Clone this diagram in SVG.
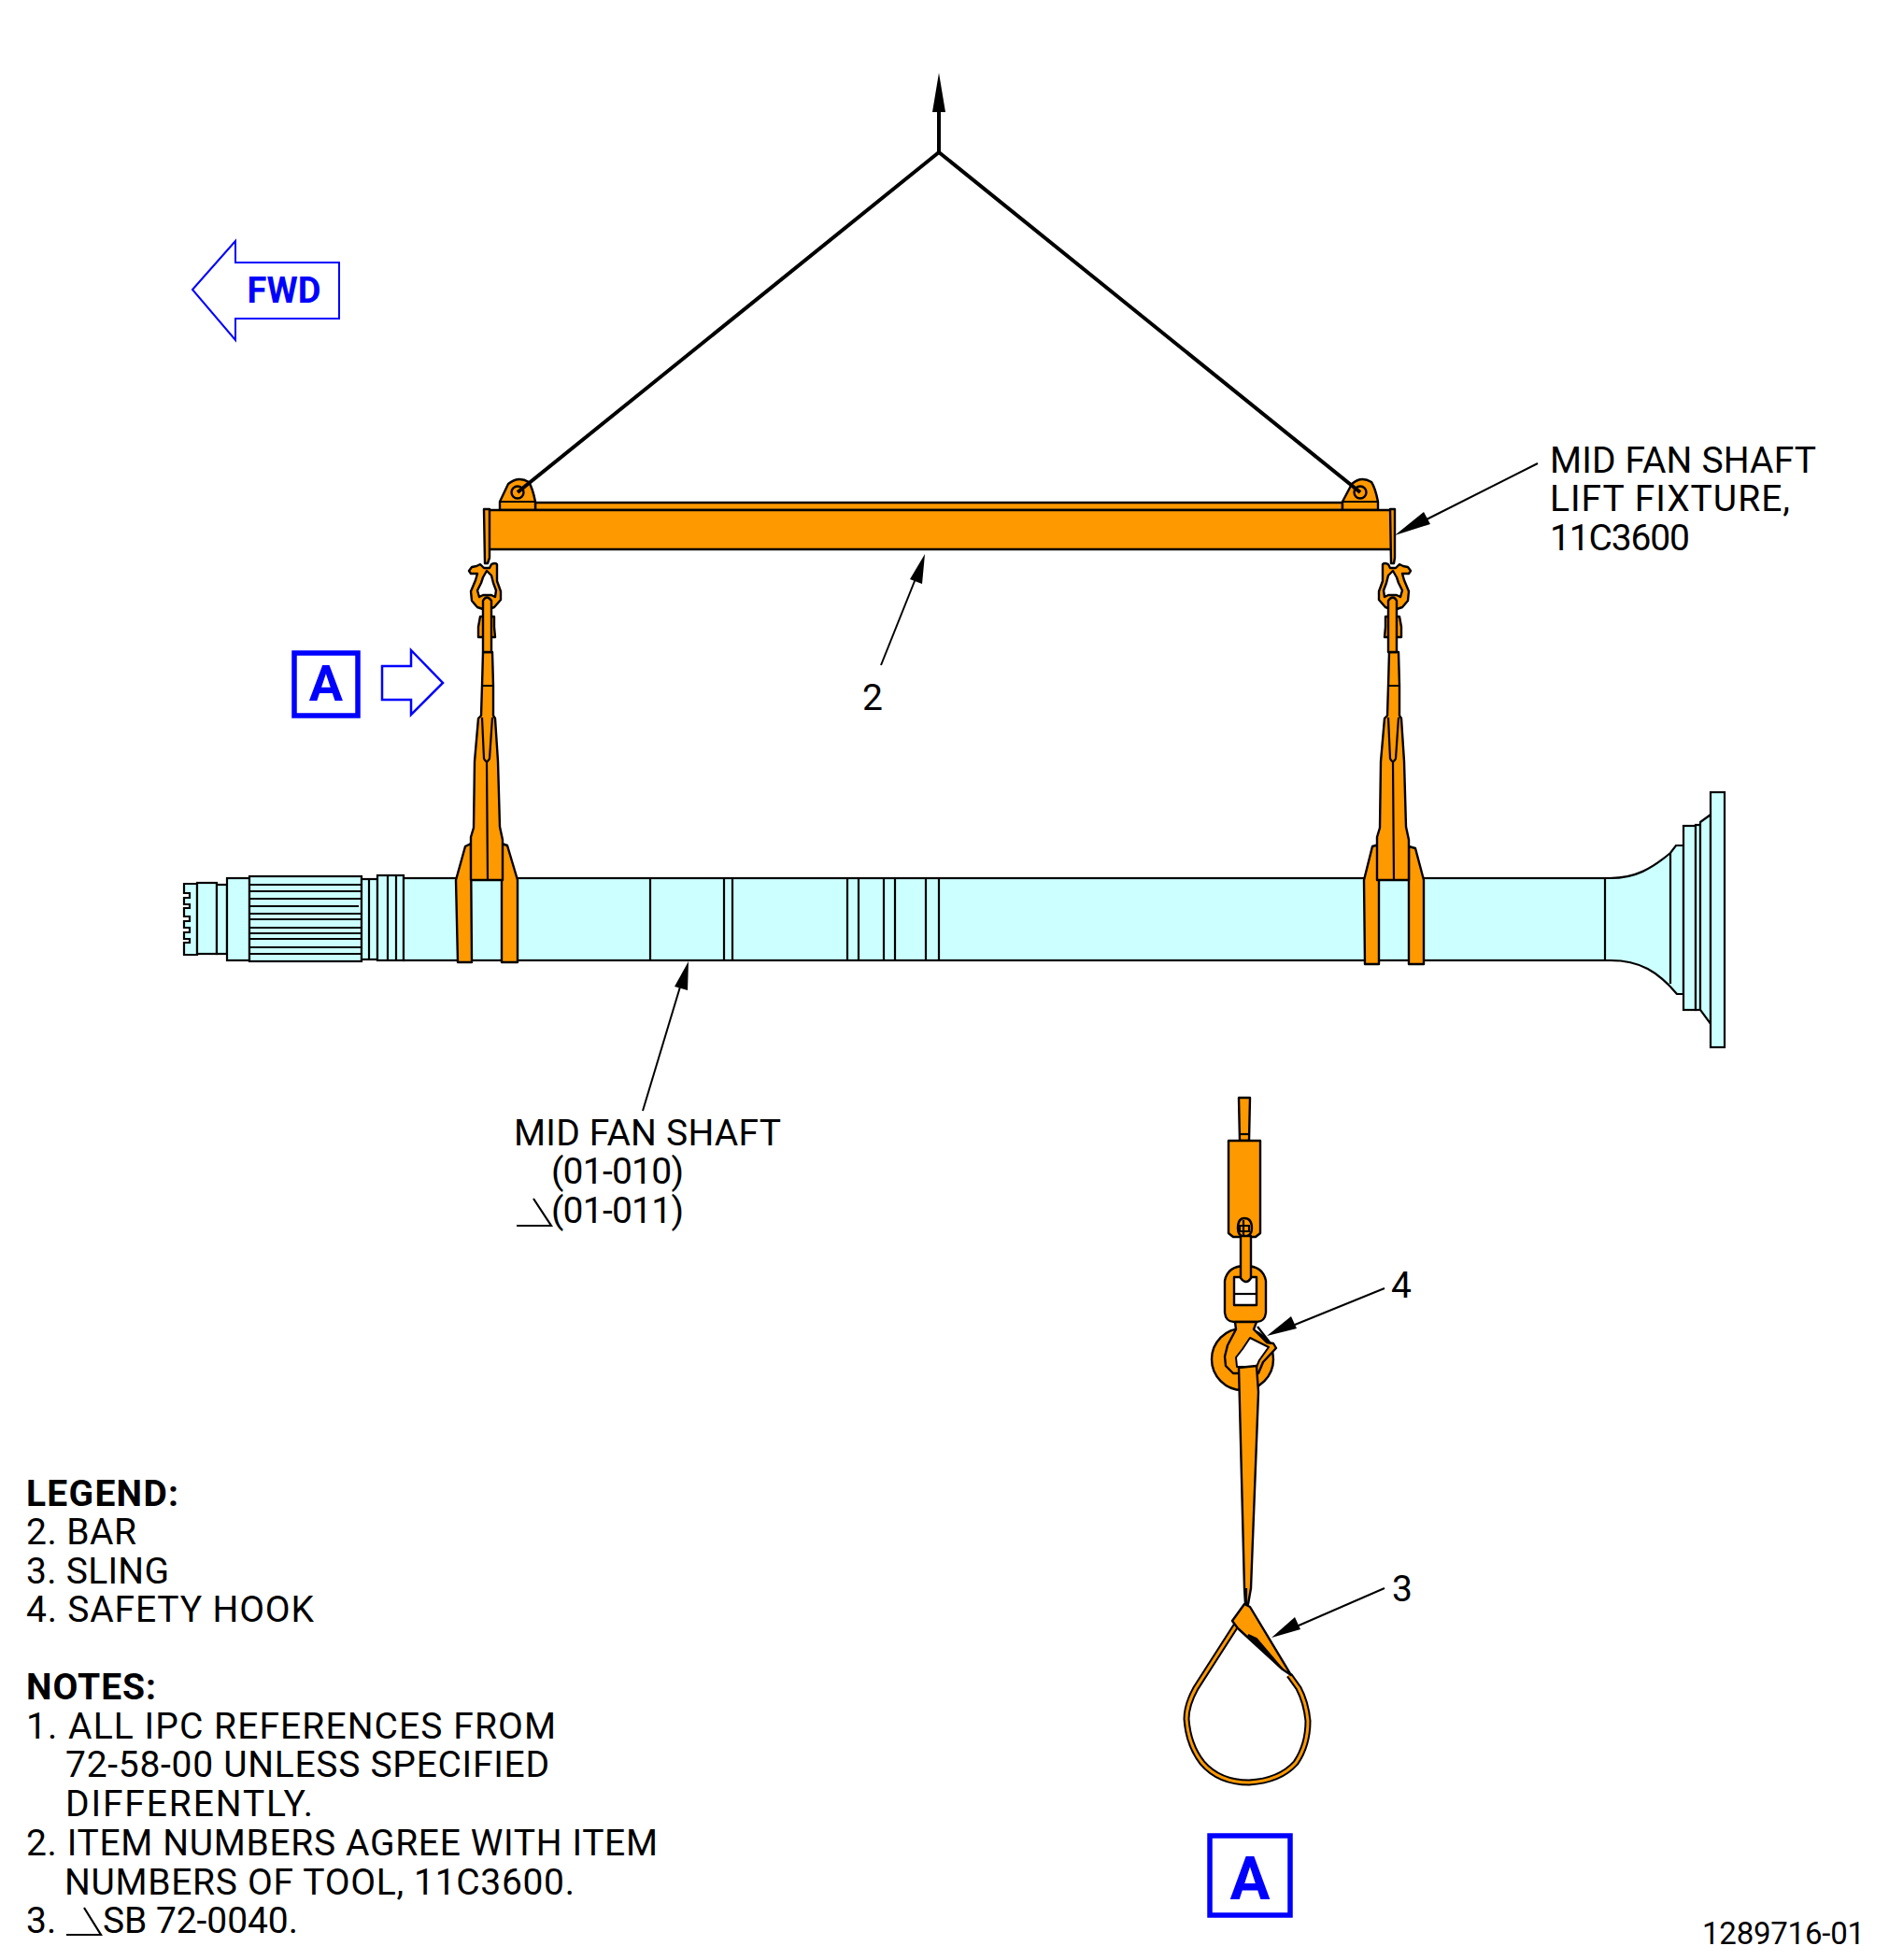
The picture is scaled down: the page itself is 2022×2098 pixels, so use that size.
<svg xmlns="http://www.w3.org/2000/svg" xmlns:xlink="http://www.w3.org/1999/xlink" width="2022" height="2098" viewBox="0 0 2022 2098">
<style>
text{font-family:Roboto,"Liberation Sans",sans-serif;font-size:39px;fill:#000;font-weight:400}
.b{font-weight:700}
.blue{fill:#00f;font-weight:700}
.o{fill:#f90;stroke:#000;stroke-width:2.400;stroke-linejoin:round}
.c{fill:#cff;stroke:#000;stroke-width:2.200;stroke-linejoin:miter}
.l{fill:none;stroke:#000;stroke-width:2.200}
.w{fill:none;stroke:#000;stroke-width:4}
.a{fill:none;stroke:#00f;stroke-width:2}
.box{fill:none;stroke:#00f;stroke-width:5.500}
.leader{fill:none;stroke:#000;stroke-width:2}
.h{fill:#000;stroke:none}
</style>
<defs>
<g id="shackle">
<path class="o" fill-rule="evenodd" d="M526 604Q530 602 532 604L532 622 536 633 536 642 529 650 520 653 511 650 505 643 504 633 509 621 511 614H504L502 611 505 607 510 606 514 604 518 608H524ZM521 611 517 618 515 624 511 632 513 639 517 637H526L530 639 531 632 528 624 526 616Z"/>
<path class="o" d="M514 660H529V671L530 682H512V671Z"/>
<path class="o" d="M517 698V643Q521 636 526 643V698Z"/>
</g>
<g id="strap">
<path class="o" d="M504 942V896L507 886 508 815 512 769 515 766 516 734 517 698H527L528 734 528 766 530 769 533 815 535 885 538 899V942Z"/>
<path class="l" d="M516 734H528M516 768 518 812Q521 818 524 812L527 768M521 815 522 943"/>
</g>
</defs>
<g id="shaft">
<path class="c" d="M197 946H211V1022H197V1009H203V1005H197V998H203V993H197V986H203V981H197V972H203V968H197V961H203V956H197Z"/>
<rect class="c" x="211" y="945" width="21" height="76"/>
<rect class="c" x="232" y="947" width="11" height="74"/>
<rect class="c" x="243" y="940" width="24" height="88"/>
<rect class="c" x="267" y="938" width="120" height="91"/>
<path class="l" d="M267 947H387M267 954H387M267 962H387M267 970H384M267 978H387M267 984H387M267 993H387M267 999H387M267 1005H387M267 1014H387M267 1021H387"/>
<rect class="c" x="387" y="941" width="17" height="86"/>
<path class="l" d="M395 941V1027"/>
<rect class="c" x="404" y="937" width="28" height="91"/>
<path class="l" d="M415 937V1028M424 937V1028"/>
<rect class="c" x="432" y="940" width="1300" height="88"/>
<path class="l" d="M696 940V1028M775 940V1028M784 940V1028M907 940V1028M919 940V1028M946 940V1028M958 940V1028M991 940V1028M1005 940V1028"/>
<path class="c" d="M1718 940H1724C1750 940 1768 930 1788 913L1794 905H1802V1064H1795C1775 1040 1755 1028 1724 1028H1718Z"/>
<path class="l" d="M1788 913V1053"/>
<rect class="c" x="1802" y="884" width="13" height="197"/>
<rect class="c" x="1815" y="883" width="5" height="198"/>
<path class="c" d="M1820 880 1831 872V1096L1820 1081Z"/>
<rect class="c" x="1831" y="848" width="15" height="273"/>
</g>
<g id="bar">
<rect class="o" x="573" y="538" width="864" height="8"/>
<path class="o" d="M535 546V537L544 518Q555 509 566 516 570 522 573 537V546Z"/>
<path class="l" d="M535 537H573"/>
<path class="o" d="M1437 546V537L1447 518Q1457 509 1468 516 1472 522 1475 537V546Z"/>
<path class="l" d="M1437 537H1475"/>
<rect class="o" x="522" y="546" width="968" height="42"/>
<circle class="o" cx="554" cy="527" r="6.500"/>
<circle class="o" cx="1456" cy="527" r="6.500"/>
<path class="o" d="M518 545H524V597L522 603H519Z"/>
<path class="o" d="M1488 545H1493V597L1492 603H1489Z"/>
</g>
<g id="sling-left">
<path class="o" d="M488 942 498 906 504 903 505 1030H490Z"/>
<path class="o" d="M537 903 543 905 554 942V1030H537Z"/>
<use xlink:href="#strap" href="#strap"/>
<use xlink:href="#shackle" href="#shackle"/>
</g>
<g id="sling-right">
<path class="o" d="M1460 942 1469 906 1476 904V1032H1461Z"/>
<path class="o" d="M1508 906 1515 908 1524 942V1032H1508Z"/>
<use xlink:href="#strap" href="#strap" transform="translate(970 0)"/>
<use xlink:href="#shackle" href="#shackle" transform="translate(2012 0) scale(-1 1)"/>
</g>
<g id="detail-a">
<path class="o" d="M1326 1175H1338L1337 1221H1327Z"/>
<path class="l" d="M1327 1214H1337"/>
<path class="o" d="M1315 1221H1349V1320L1344 1324H1320L1315 1320Z"/>
<path class="o" d="M1325 1315Q1325 1304 1332 1304 1340 1304 1340 1315 1340 1323 1332 1324 1325 1323 1325 1315Z"/>
<path class="l" d="M1331 1306V1323M1327 1312V1318H1337V1312Z"/>
<path class="o" fill-rule="evenodd" d="M1311 1371Q1314 1355 1333 1355 1352 1355 1355 1371V1405Q1354 1415 1345 1415H1321Q1312 1415 1311 1405ZM1321 1367V1397H1345V1367Z"/>
<path class="l" d="M1321 1385H1345"/>
<path class="o" d="M1328 1323H1339V1368Q1334 1376 1328 1368Z"/>
<circle class="o" cx="1330" cy="1455" r="33"/>
<path class="o" d="M1322 1415H1345L1342 1423 1356 1437 1363 1438 1366 1443 1352 1458 1347 1470H1320L1312 1462 1311 1452 1314 1440 1323 1423Z"/>
<path fill="#fff" stroke="#000" stroke-width="2" stroke-linejoin="round" d="M1338 1432 1350 1438 1358 1442 1348 1456 1345 1463H1324L1323 1453 1330 1444Z"/>
<path class="l" d="M1346 1420 1360 1438"/>
<path class="o" d="M1326 1464 1345 1462 1347 1490 1339 1700 1336 1717H1333L1332 1700Z"/>
<path class="l" d="M1334 1700V1716"/>
<path d="M1323 1740 1280 1807Q1270 1825 1270 1840 1272 1868 1287 1887 1305 1908 1337 1908 1370 1906 1387 1887 1400 1868 1400 1842 1398 1822 1390 1807L1380 1793" fill="none" stroke="#000" stroke-width="7"/>
<path d="M1323 1740 1280 1807Q1270 1825 1270 1840 1272 1868 1287 1887 1305 1908 1337 1908 1370 1906 1387 1887 1400 1868 1400 1842 1398 1822 1390 1807L1380 1793" fill="none" stroke="#f90" stroke-width="3"/>
<path class="o" d="M1332 1717 1338 1720 1382 1793 1373 1787 1325 1743 1319 1735Z"/>
<path d="M1336 1750 1373 1787 1345 1754Z" fill="#000" stroke="#000" stroke-width="2"/>
</g>
<g id="connectors">
<path class="w" d="M1005 163V100"/>
<path class="w" d="M554 527 1005 163 1456 527"/>
<path class="h" d="M1005 78 998 120H1012Z"/>
<path class="leader" d="M1646 496 1525 557"/>
<path class="h" d="M1493 573 1524 548 1531 561Z"/>
<path class="leader" d="M943 712 981 617"/>
<path class="h" d="M990 593 974 620 987 625Z"/>
<path class="leader" d="M688 1189 729 1053"/>
<path class="h" d="M737 1029 722 1056 736 1060Z"/>
<path class="leader" d="M1482 1379 1386 1418"/>
<path class="h" d="M1356 1430 1382 1409 1388 1422Z"/>
<path class="leader" d="M1482 1700 1390 1740"/>
<path class="h" d="M1361 1753 1386 1731 1392 1744Z"/>
</g>
<g id="fwd">
<path class="a" d="M206 310 252 258V281H363V341H252V364Z"/>
<text class="blue" x="304" y="324" text-anchor="middle" style="font-size:38px">FWD</text>
</g>
<g id="view-arrow">
<rect class="box" x="315" y="699" width="68" height="67"/>
<text class="blue" x="349" y="750" text-anchor="middle" style="font-size:54px">A</text>
<path class="a" style="stroke-width:2.500" d="M409 713H440V696L474 731 440 765V749H409Z"/>
</g>
<g id="view-label">
<rect class="box" x="1295" y="1965" width="86" height="85"/>
<text class="blue" x="1338" y="2033" text-anchor="middle" style="font-size:64px">A</text>
</g>
<g id="labels">
<text x="1659" y="506" textLength="285">MID FAN SHAFT</text>
<text x="1659" y="547" textLength="257">LIFT FIXTURE,</text>
<text x="1659" y="589" textLength="150">11C3600</text>
<text x="923" y="760">2</text>
<text x="550" y="1226" textLength="286">MID FAN SHAFT</text>
<text x="590" y="1267" textLength="142">(01-010)</text>
<text x="590" y="1309" textLength="142">(01-011)</text>
<path class="l" d="M553 1312H590L571 1283"/>
<text x="1489" y="1389">4</text>
<text x="1490" y="1714">3</text>
</g>
<g id="legend">
<text class="b" x="28" y="1612" textLength="163">LEGEND:</text>
<text x="28" y="1653" textLength="118">2. BAR</text>
<text x="28" y="1695" textLength="153">3. SLING</text>
<text x="28" y="1736" textLength="308">4. SAFETY HOOK</text>
<text class="b" x="28" y="1819" textLength="139">NOTES:</text>
<text x="28" y="1861" textLength="567">1. ALL IPC REFERENCES FROM</text>
<text x="70" y="1902" textLength="518">72-58-00 UNLESS SPECIFIED</text>
<text x="70" y="1944" textLength="265">DIFFERENTLY.</text>
<text x="28" y="1986" textLength="676">2. ITEM NUMBERS AGREE WITH ITEM</text>
<text x="69" y="2028" textLength="546">NUMBERS OF TOOL, 11C3600.</text>
<text x="28" y="2069">3.</text>
<path class="l" d="M71 2071H108L90 2042"/>
<text x="110" y="2069" textLength="209">SB 72-0040.</text>
<text x="1822" y="2081" textLength="174" style="font-size:33px">1289716-01</text>
</g>
</svg>
